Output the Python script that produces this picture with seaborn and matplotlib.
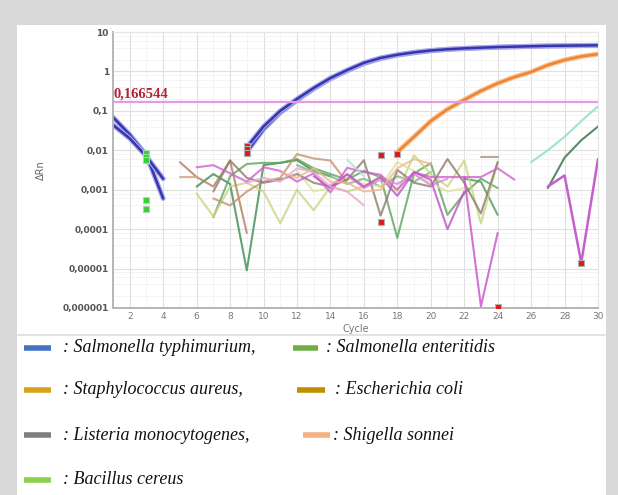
import numpy as np
import pandas as pd
import matplotlib
matplotlib.use("Agg")
import matplotlib.pyplot as plt
import matplotlib.patheffects as pe
from matplotlib.lines import Line2D
from matplotlib.patches import Rectangle
from matplotlib.ticker import FixedLocator, NullFormatter, LogLocator
import seaborn as sns

# ---------------- data ----------------
threshold = 0.166544
threshold_label = "0,166544"

x_ticks = list(range(2, 31, 2))
y_tick_vals = [10, 1, 0.1, 0.01, 0.001, 0.0001, 0.00001, 0.000001]
y_tick_labels = ["10", "1", "0,1", "0,01", "0,001", "0,0001", "0,00001", "0,000001"]

# amplification curves
typh_a_cycles = list(range(9, 31))
typh_a_vals = [0.012, 0.04, 0.1, 0.2, 0.38, 0.68, 1.08, 1.65, 2.2, 2.65, 3.05, 3.4,
               3.65, 3.85, 4.0, 4.15, 4.25, 4.35, 4.45, 4.5, 4.55, 4.6]
typh_b_cycles = list(range(9, 31))
typh_b_vals = [0.009, 0.034, 0.09, 0.185, 0.36, 0.65, 1.03, 1.58, 2.12, 2.58, 2.98, 3.33,
               3.6, 3.8, 3.96, 4.1, 4.2, 4.3, 4.4, 4.46, 4.52, 4.57]
early_a_cycles = [1, 2, 3, 4]
early_a_vals = [0.069, 0.025, 0.0075, 0.0006]
early_b_cycles = [1, 2, 3, 4]
early_b_vals = [0.044, 0.02, 0.007, 0.0019]
aureus_cycles = list(range(18, 31))
aureus_vals = [0.009, 0.022, 0.055, 0.11, 0.19, 0.32, 0.5, 0.72, 0.97, 1.45, 1.95, 2.4, 2.75]
teal_cycles = [26, 27, 28, 29, 30]
teal_vals = [0.005, 0.01, 0.022, 0.055, 0.13]
dkgreen_end_cycles = [27, 28, 29, 30]
dkgreen_end_vals = [0.0011, 0.0065, 0.018, 0.04]
violet_end_cycles = [27, 28, 29, 30]
violet_end_vals = [0.0012, 0.0023, 0.000014, 0.006]

# background (noise) traces
noise = [
    ("#3d8b50", list(range(6, 15)),
     [0.0012, 0.0025, 0.0014, 0.000009, 0.0042, 0.0048, 0.0056, 0.003, 0.0022]),
    ("#5fa35f", list(range(7, 25)),
     [0.0002, 0.0022, 0.0045, 0.0048, 0.0048, 0.006, 0.0035, 0.0025, 0.0018, 0.003,
      0.0021, 0.00006, 0.0026, 0.0047, 0.00023, 0.0008, 0.0019, 0.0011]),
    ("#4f9a5a", [22, 23, 24], [0.0019, 0.0016, 0.00023]),
    ("#7ab870", list(range(12, 21)),
     [0.0042, 0.0028, 0.0022, 0.0014, 0.0019, 0.0012, 0.0022, 0.0016, 0.0028]),
    ("#c9d67e", list(range(6, 25)),
     [0.0008, 0.00021, 0.0012, 0.0015, 0.0009, 0.00014, 0.001, 0.0003, 0.0012, 0.0009,
      0.0012, 0.0022, 0.0009, 0.0075, 0.0025, 0.0012, 0.0055, 0.00014, 0.005]),
    ("#dfe3a0", list(range(12, 23)),
     [0.003, 0.0009, 0.0011, 0.002, 0.0014, 0.0012, 0.005, 0.003, 0.0015, 0.0009, 0.0011]),
    ("#b07f60", [5, 6, 7, 8, 9], [0.005, 0.0021, 0.0012, 0.0055, 0.00008]),
    ("#d8a080", [5, 6], [0.0021, 0.0021]),
    ("#c89070", list(range(7, 16)),
     [0.0006, 0.0004, 0.0009, 0.0016, 0.002, 0.008, 0.0062, 0.0055, 0.0015]),
    ("#8c7b6b", list(range(7, 25)),
     [0.0009, 0.0055, 0.002, 0.0015, 0.0018, 0.0025, 0.0015, 0.0012, 0.0018, 0.0056,
      0.00022, 0.0032, 0.0015, 0.0012, 0.006, 0.0015, 0.00025, 0.005]),
    ("#a89080", [23, 24], [0.0068, 0.0068]),
    ("#d060d0", list(range(6, 26)),
     [0.0037, 0.0042, 0.0026, 0.0016, 0.0037, 0.003, 0.0016, 0.0026, 0.00085, 0.0036,
      0.0028, 0.0024, 0.001, 0.0028, 0.0021, 0.0021, 0.0021, 0.0021, 0.0035, 0.0018]),
    ("#e080e0", list(range(14, 22)),
     [0.0013, 0.0024, 0.0011, 0.0018, 0.0014, 0.0025, 0.0013, 0.0019]),
    ("#c050c8", list(range(13, 23)),
     [0.0022, 0.0011, 0.0025, 0.0012, 0.0021, 0.0007, 0.0028, 0.0018, 0.0001, 0.0009]),
    ("#c850c8", [22, 23, 24], [0.0021, 0.0000011, 0.00008]),
    ("#e6a8d0", list(range(9, 17)),
     [0.0015, 0.002, 0.0016, 0.0035, 0.0028, 0.0012, 0.0009, 0.0004]),
    ("#b0e0d0", [15, 16], [0.0058, 0.0022]),
    ("#f0b890", list(range(11, 21)),
     [0.0028, 0.002, 0.0035, 0.0016, 0.0015, 0.0009, 0.001, 0.0035, 0.006, 0.0045]),
]

red_marker_cycles = [9, 9, 9, 17, 18, 17, 29, 24]
red_marker_vals = [0.013, 0.0105, 0.0085, 0.0077, 0.0082, 0.00015, 0.000014, 0.00000105]
green_marker_cycles = [3, 3, 3, 3, 3]
green_marker_vals = [0.0085, 0.0068, 0.0056, 0.00055, 0.00032]

legend_left = [("#4472c4", ": Salmonella typhimurium,"),
               ("#d9a21b", ": Staphylococcus aureus,"),
               ("#7f7f7f", ": Listeria monocytogenes,"),
               ("#8fd14f", ": Bacillus cereus")]
legend_right = [("#70ad47", ": Salmonella enteritidis"),
                ("#bf8f00", ": Escherichia coli"),
                ("#f4b183", ": Shigella sonnei")]

# ---------------- figure ----------------
sns.set_style("white")
plt.rcParams['font.family'] = ['DejaVu Sans']

W, H = 618, 495
fig = plt.figure(figsize=(W / 100, H / 100), dpi=100)
fig.patch.set_facecolor("#d9d9d9")
fig.patches.append(Rectangle((17 / W, 0), (606 - 17) / W, 1 - 25 / H,
                             transform=fig.transFigure, facecolor="white",
                             edgecolor="none", zorder=-10))
fig.lines.append(Line2D([18 / W, 605 / W], [1 - 335 / H, 1 - 335 / H],
                        transform=fig.transFigure, color="#dddddd", lw=1.2, zorder=-5))

ax = fig.add_axes([113 / W, 1 - 308 / H, (598 - 113) / W, (308 - 32) / H])
ax.set_facecolor("white")
ax.set_yscale("log")
ax.set_xlim(1, 30)
ax.set_ylim(1e-6, 10)

# grid
ax.xaxis.set_major_locator(FixedLocator(x_ticks))
ax.xaxis.set_minor_locator(FixedLocator(list(range(1, 31))))
ax.yaxis.set_major_locator(FixedLocator(y_tick_vals))
ax.yaxis.set_minor_locator(LogLocator(base=10, subs=(2, 4, 6, 8)))
ax.yaxis.set_minor_formatter(NullFormatter())
ax.grid(which="major", color="#e0e0e0", lw=0.8)
ax.grid(which="minor", color="#ececec", lw=0.6, ls=(0, (2, 1)))
ax.set_axisbelow(True)

halo = lambda c: [pe.Stroke(linewidth=3.6, foreground=c), pe.Normal()]

for c, xs, ys in noise:
    sns.lineplot(x=xs, y=ys, color=c, lw=1.5, alpha=0.8, ax=ax, legend=False)

sns.lineplot(x=teal_cycles, y=teal_vals, color="#a0e4c8", lw=1.5, ax=ax)
sns.lineplot(x=dkgreen_end_cycles, y=dkgreen_end_vals, color="#5a8a6a", lw=1.5, ax=ax)
sns.lineplot(x=violet_end_cycles, y=violet_end_vals, color="#c460cc", lw=1.8, ax=ax)

for xs, ys in [(early_a_cycles, early_a_vals), (early_b_cycles, early_b_vals),
               (typh_b_cycles, typh_b_vals), (typh_a_cycles, typh_a_vals)]:
    l = sns.lineplot(x=xs, y=ys, color="#3535b0", lw=1.8, ax=ax).lines[-1]
    l.set_path_effects(halo("#a8a8e8"))
l = sns.lineplot(x=aureus_cycles, y=aureus_vals, color="#ee8535", lw=1.8, ax=ax).lines[-1]
l.set_path_effects(halo("#f8c090"))

ax.axhline(threshold, color="#e59ae6", lw=1.6, zorder=3)
ax.text(1.05, threshold * 1.08, threshold_label, color="#b22234", fontsize=10.5,
        fontweight="bold", family="Liberation Serif", ha="left", va="bottom")

sns.scatterplot(x=red_marker_cycles, y=red_marker_vals, marker="s", s=22,
                color="#e01818", edgecolor="#b0b0b0", linewidth=0.8, ax=ax, zorder=5)
sns.scatterplot(x=green_marker_cycles, y=green_marker_vals, marker="s", s=22,
                color="#30d030", edgecolor="#b0d8b0", linewidth=0.8, ax=ax, zorder=5)

ax.set_xticks(x_ticks)
ax.set_xticklabels([str(t) for t in x_ticks], fontsize=6.5, color="#777777")
ax.set_yticks(y_tick_vals)
ax.set_yticklabels(y_tick_labels, fontsize=6.5, color="#555555", fontweight="bold")
ax.tick_params(axis="both", which="both", length=0, pad=3)
ax.set_xlabel("Cycle", fontsize=7, color="#777777", labelpad=2)
ax.set_ylabel("ΔRn", fontsize=7, color="#666666", labelpad=12)

for s in ["top", "right"]:
    ax.spines[s].set_color("#e6e6e6")
    ax.spines[s].set_linewidth(0.8)
for s in ["left", "bottom"]:
    ax.spines[s].set_color("#b5b5b5")
    ax.spines[s].set_linewidth(1.4)

# ---------------- legend (figure-level) ----------------
rows_y = [348, 390, 435, 480]
for (c, label), yp in zip(legend_left, rows_y):
    fy = 1 - yp / H
    fig.lines.append(Line2D([24 / W, 51 / W], [fy, fy], transform=fig.transFigure,
                            color=c, lw=4, solid_capstyle="butt"))
    fig.text(63 / W, fy, label, fontsize=13, style="italic", family="Liberation Serif",
             color="#111111", va="center", ha="left")

right_geo = [(293, 318, 326), (297, 325, 335), (303, 330, 333)]
for (c, label), yp, (x0, x1, xt) in zip(legend_right, rows_y[:3], right_geo):
    fy = 1 - yp / H
    fig.lines.append(Line2D([x0 / W, x1 / W], [fy, fy], transform=fig.transFigure,
                            color=c, lw=4, solid_capstyle="butt"))
    fig.text(xt / W, fy, label, fontsize=13, style="italic", family="Liberation Serif",
             color="#111111", va="center", ha="left")

fig.savefig("out.png", dpi=100, facecolor=fig.get_facecolor())
